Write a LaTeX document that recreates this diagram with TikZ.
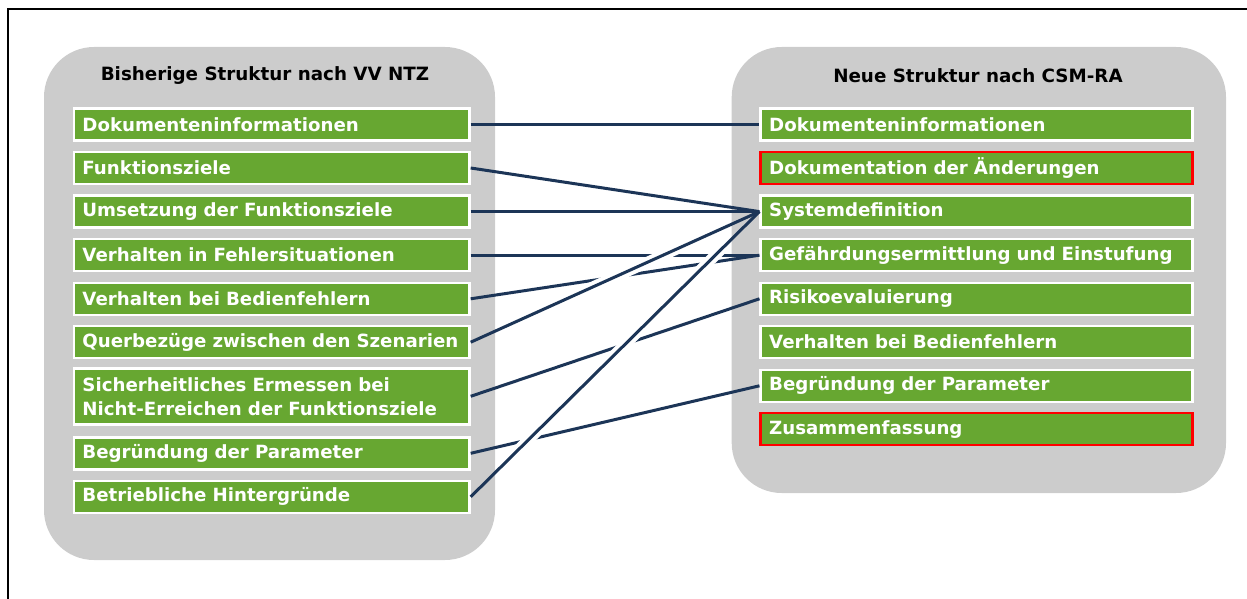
\documentclass[tikz,border=0pt]{standalone}
\usepackage{fontspec}
\setmainfont{DejaVu Sans}
\definecolor{panelgray}{HTML}{CCCCCC}
\definecolor{boxgreen}{HTML}{67A731}
\definecolor{linknavy}{HTML}{1C3557}
\definecolor{alertred}{HTML}{FF0000}
\begin{document}
\begin{tikzpicture}[x=1pt,y=-1pt,
  panel/.style={fill=panelgray, rounded corners=50pt},
  itembox/.style={draw=white, line width=2.5pt, fill=boxgreen, text=white,
    font=\bfseries\fontsize{18.2}{24}\selectfont, inner xsep=8.5pt, inner ysep=0pt,
    align=left, minimum height=32pt},
  leftbox/.style={itembox, text width=378.5pt},
  rightbox/.style={itembox, text width=415pt},
  changed/.style={draw=alertred},
  paneltitle/.style={font=\bfseries\fontsize{18.3}{22}\selectfont, text=black},
  link/.style={draw=linknavy, line width=3pt},
  halo/.style={draw=white, line width=11pt, shorten <=45pt, shorten >=48pt},
]
\useasboundingbox (0,0) rectangle (1247,599);
% outer frame (top and left edges)
\draw[line width=2pt] (7.5,599) -- (7.5,9.3) -- (1247,9.3);

% panels
\fill[panel] (44,47) rectangle (495,560);
\fill[panel] (731.7,47) rectangle (1226,493);
\node[paneltitle] (ltitle) at (265,76) {Bisherige Struktur nach VV NTZ};
\node[paneltitle] (rtitle) at (978,76) {Neue Struktur nach CSM-RA};

% old structure
\node[leftbox] (l1) at (271.7,124.5) {Dokumenteninformationen};
\node[leftbox] (l2) at (271.7,168)   {Funktionsziele};
\node[leftbox] (l3) at (271.7,211.6) {Umsetzung der Funktionsziele};
\node[leftbox] (l4) at (271.7,255.2) {Verhalten in Fehlersituationen};
\node[leftbox] (l5) at (271.7,298.8) {Verhalten bei Bedienfehlern};
\node[leftbox] (l6) at (271.7,342.2) {Querbezüge zwischen den Szenarien};
\node[leftbox, minimum height=56pt] (l7) at (271.7,396.3)
  {Sicherheitliches Ermessen bei\\Nicht-Erreichen der Funktionsziele};
\node[leftbox] (l8) at (271.7,453.3) {Begründung der Parameter};
\node[leftbox] (l9) at (271.7,496.8) {Betriebliche Hintergründe};

% new structure
\node[rightbox] (r1) at (976.7,124.5) {Dokumenteninformationen};
\node[rightbox, changed] (r2) at (976.7,168) {Dokumentation der Änderungen};
\node[rightbox] (r3) at (976.7,211.6) {Systemdefinition};
\node[rightbox] (r4) at (976.7,255.2) {Gefährdungsermittlung und Einstufung};
\node[rightbox] (r5) at (976.7,298.8) {Risikoevaluierung};
\node[rightbox] (r6) at (976.7,342.2) {Verhalten bei Bedienfehlern};
\node[rightbox] (r7) at (976.7,385.8) {Begründung der Parameter};
\node[rightbox, changed] (r8) at (976.7,429.2) {Zusammenfassung};

% mappings that pass underneath
\draw[link] (l1.east) -- (r1.west);
\draw[link] (l4.east) -- (r4.west);
\draw[link] (l5.east) -- (r4.west);
\draw[link] (l7.east) -- (r5.west);
\draw[link] (l8.east) -- (r7.west);

% white jumps where the system-definition links cross
\draw[halo] (l6.east) -- (r3.west);
\draw[halo] (l9.east) -- (r3.west);

% mappings into the system definition
\draw[link] (l2.east) -- (r3.west);
\draw[link] (l3.east) -- (r3.west);
\draw[link] (l6.east) -- (r3.west);
\draw[link] (l9.east) -- (r3.west);
\end{tikzpicture}
\end{document}
